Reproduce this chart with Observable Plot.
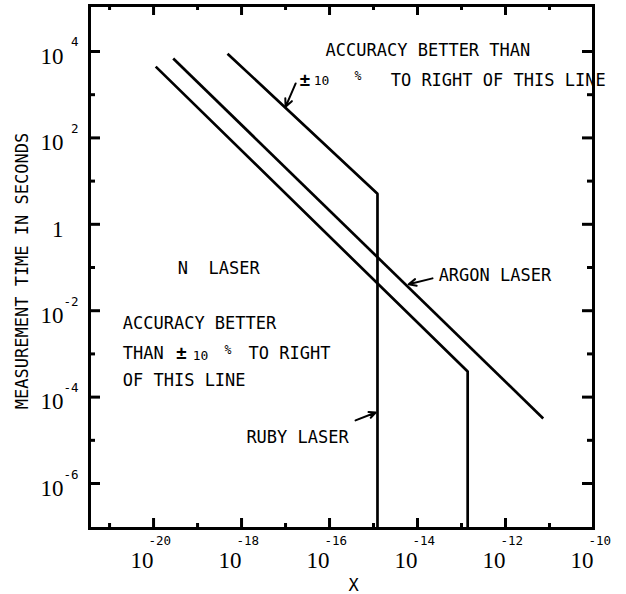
<!DOCTYPE html>
<html>
<head>
<meta charset="utf-8">
<script src="https://cdn.jsdelivr.net/npm/d3@7"></script>
<script src="https://cdn.jsdelivr.net/npm/@observablehq/plot@0.6"></script>
<style>
  html, body { margin: 0; padding: 0; background: #fff; }
  svg text { white-space: pre; }
  g[aria-label="note"] text { letter-spacing: 1px; }
  g[aria-label="note tight"] text { letter-spacing: 0px; }
  g[aria-label="exponent"] text { letter-spacing: 2.2px; }
</style>
</head>
<body>
<div id="chart"></div>
<script>
// Scale extents (log axes)
const X_DOMAIN = [3.5e-22, 1e-10];
const Y_DOMAIN = [9.1e-8, 1.16e5];

// Tick decades
const xMajorExps = [-20, -18, -16, -14, -12, -10];
const xMinorExps = [-21, -19, -17, -15, -13, -11];
const yMajorExps = [4, 2, 0, -2, -4, -6];
const yMinorExps = [3, 1, -1, -3, -5];

// Accuracy limit lines: x vs. measurement time (s)
const nitrogenX = [1.12e-20, 1.38e-13, 1.38e-13];
const nitrogenY = [4470, 3.9e-4, Y_DOMAIN[0]];
const argonX = [2.8e-20, 7.2e-12];
const argonY = [6900, 3.2e-5];
const rubyX = [4.8e-19, 1.23e-15, 1.23e-15];
const rubyY = [8900, 5.1, Y_DOMAIN[0]];

// Pointer arrows (tail -> head)
const arrowX1 = [1.7e-17, 2.19e-14, 3.9e-16];
const arrowY1 = [1820, 0.056, 2.9e-5];
const arrowX2 = [1.0e-17, 6.3e-15, 1.12e-15];
const arrowY2 = [525, 0.041, 4.4e-5];

// Annotation text and anchor points
const noteText = ["ACCURACY BETTER THAN", "N  LASER", "ARGON LASER", "ACCURACY BETTER", "THAN", "TO RIGHT", "OF THIS LINE", "RUBY LASER"];
const noteX = [10 ** -16.09, 10 ** -19.45, 10 ** -13.52, 10 ** -20.70, 10 ** -20.70, 10 ** -17.84, 10 ** -20.70, 10 ** -17.89];
const noteY = [10 ** 4.02, 10 ** -1.02, 10 ** -1.19, 10 ** -2.30, 10 ** -2.99, 10 ** -2.99, 10 ** -3.62, 10 ** -4.94];
const topNoteText = ["TO RIGHT OF THIS LINE"];
const topNoteX = [10 ** -14.61];
const topNoteY = [10 ** 3.33];
const pmX = [10 ** -16.68, 10 ** -19.49];
const pmY = [10 ** 3.33, 10 ** -2.99];
const tenX = [10 ** -16.36, 10 ** -19.11];
const tenY = [10 ** 3.31, 10 ** -3.04];
const pctX = [10 ** -15.43, 10 ** -18.39];
const pctY = [10 ** 3.42, 10 ** -2.92];

const lines = [
  ...nitrogenX.map((x, i) => ({laser: "N", x, y: nitrogenY[i]})),
  ...argonX.map((x, i) => ({laser: "Argon", x, y: argonY[i]})),
  ...rubyX.map((x, i) => ({laser: "Ruby", x, y: rubyY[i]}))
];
const arrows = arrowX1.map((x1, i) => ({x1, y1: arrowY1[i], x2: arrowX2[i], y2: arrowY2[i]}));
const notes = noteText.map((text, i) => ({text, x: noteX[i], y: noteY[i]}));
const topNotes = topNoteText.map((text, i) => ({text, x: topNoteX[i], y: topNoteY[i]}));
const pm = pmX.map((x, i) => ({x, y: pmY[i]}));
const tens = tenX.map((x, i) => ({x, y: tenY[i]}));
const pcts = pctX.map((x, i) => ({x, y: pctY[i]}));

const W = 626, H = 594;
const M = {top: 5, right: 33, bottom: 66, left: 89};
const plotW = W - M.left - M.right;
const plotH = H - M.top - M.bottom;

const MONO = "DejaVu Sans Mono";
const SERIF = "Liberation Serif";
const pow = e => 10 ** e;

const chart = Plot.plot({
  width: W,
  height: H,
  marginTop: M.top,
  marginRight: M.right,
  marginBottom: M.bottom,
  marginLeft: M.left,
  x: {type: "log", domain: X_DOMAIN, axis: null},
  y: {type: "log", domain: Y_DOMAIN, axis: null},
  style: {background: "#fff", color: "#000"},
  marks: [
    // annotations sit under the frame
    Plot.text(notes, {x: "x", y: "y", text: "text", textAnchor: "start", lineAnchor: "middle",
      fontFamily: MONO, fontSize: 17, fill: "#000", ariaLabel: "note"}),
    Plot.text(topNotes, {x: "x", y: "y", text: "text", textAnchor: "start", lineAnchor: "middle",
      fontFamily: MONO, fontSize: 17, fill: "#000", ariaLabel: "note tight"}),
    Plot.text(pm, {x: "x", y: "y", text: () => "±", textAnchor: "start", lineAnchor: "middle",
      fontFamily: MONO, fontSize: 18, fontWeight: "bold", fill: "#000"}),
    Plot.text(tens, {x: "x", y: "y", text: () => "10", textAnchor: "start", lineAnchor: "middle",
      fontFamily: MONO, fontSize: 13, fill: "#000", ariaLabel: "exponent"}),
    Plot.text(pcts, {x: "x", y: "y", text: () => "%", textAnchor: "start", lineAnchor: "middle",
      fontFamily: MONO, fontSize: 11.5, fill: "#000"}),

    // limit lines
    Plot.line(lines, {x: "x", y: "y", z: "laser", stroke: "#000", strokeWidth: 2.7,
      strokeLinejoin: "miter", strokeLinecap: "butt"}),

    // pointer arrows
    Plot.arrow(arrows, {x1: "x1", y1: "y1", x2: "x2", y2: "y2", stroke: "#000",
      strokeWidth: 2, headLength: 9, headAngle: 50}),

    // inward ticks: bottom / top
    Plot.tickX(xMajorExps.map(pow), {x: d => d, insetTop: plotH - 10, strokeWidth: 3}),
    Plot.tickX(xMinorExps.map(pow), {x: d => d, insetTop: plotH - 5, strokeWidth: 3}),
    Plot.tickX(xMajorExps.map(pow), {x: d => d, insetBottom: plotH - 10, strokeWidth: 3}),
    Plot.tickX(xMinorExps.map(pow), {x: d => d, insetBottom: plotH - 5, strokeWidth: 3}),
    // inward ticks: left / right
    Plot.tickY(yMajorExps.map(pow), {y: d => d, insetRight: plotW - 11, strokeWidth: 3}),
    Plot.tickY(yMinorExps.map(pow), {y: d => d, insetRight: plotW - 6, strokeWidth: 3}),
    Plot.tickY(yMajorExps.map(pow), {y: d => d, insetLeft: plotW - 11, strokeWidth: 3}),
    Plot.tickY(yMinorExps.map(pow), {y: d => d, insetLeft: plotW - 6, strokeWidth: 3}),

    Plot.frame({stroke: "#000", strokeWidth: 3}),

    // x tick labels: 10 with superscript exponent
    Plot.text(xMajorExps, {x: pow, frameAnchor: "bottom", text: () => "10", textAnchor: "end",
      lineAnchor: "bottom", dy: 39, fontFamily: SERIF, fontSize: 23, fill: "#000"}),
    Plot.text(xMajorExps, {x: pow, frameAnchor: "bottom", text: e => String(e), textAnchor: "start",
      lineAnchor: "bottom", dx: -5, dy: 16, fontFamily: MONO, fontSize: 12.5, fill: "#000", ariaLabel: "exponent"}),

    // y tick labels
    Plot.text(yMajorExps, {y: pow, frameAnchor: "left", text: e => e === 0 ? "1" : "10", textAnchor: "end",
      lineAnchor: "middle", dx: -26, dy: 5, fontFamily: SERIF, fontSize: 23, fill: "#000"}),
    Plot.text(yMajorExps, {y: pow, frameAnchor: "left", text: e => e === 0 ? "" : String(e), textAnchor: "end",
      lineAnchor: "middle", dx: -11, dy: -9, fontFamily: MONO, fontSize: 12.5, fill: "#000", ariaLabel: "exponent"}),

    // axis titles
    Plot.text(["MEASUREMENT TIME IN SECONDS"], {frameAnchor: "left", text: d => d, rotate: -90,
      textAnchor: "middle", lineAnchor: "middle", dx: -67, dy: 4,
      fontFamily: MONO, fontSize: 17, fill: "#000", ariaLabel: "note"}),
    Plot.text(["X"], {frameAnchor: "bottom", text: d => d, textAnchor: "middle", lineAnchor: "middle",
      dx: 12, dy: 57, fontFamily: MONO, fontSize: 17, fill: "#000"})
  ]
});

document.getElementById("chart").append(chart);
</script>
</body>
</html>
